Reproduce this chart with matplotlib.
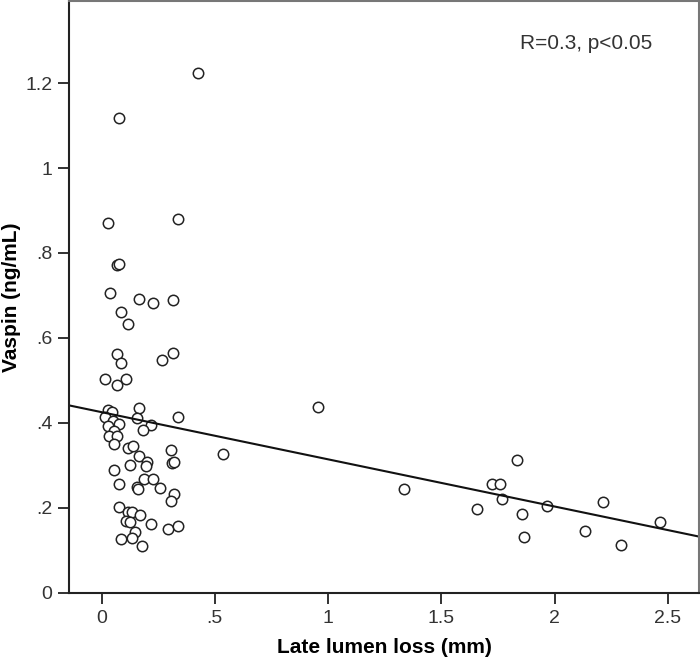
import matplotlib.pyplot as plt
import numpy as np
from matplotlib import font_manager

# late lumen loss (mm) and vaspin (ng/mL)
lll = [0.427, 0.076, 0.027, 0.338, 0.070, 0.077, 0.037, 0.167, 0.227, 0.317,
       0.086, 0.118, 0.068, 0.087, 0.317, 0.268, 0.017, 0.108, 0.068, 0.027,
       0.048, 0.167, 0.336, 0.015, 0.155, 0.049, 0.079, 0.027, 0.217, 0.185,
       0.057, 0.034, 0.070, 0.057, 0.116, 0.138, 0.307, 0.538, 0.167, 0.200,
       0.196, 0.310, 0.319, 0.127, 0.057, 0.077, 0.188, 0.226, 0.155, 0.160,
       0.257, 0.319, 0.305, 0.077, 0.118, 0.136, 0.170, 0.108, 0.126, 0.217,
       0.295, 0.336, 0.149, 0.086, 0.136, 0.177, 0.957,
       1.337, 1.656, 1.725, 1.758, 1.836, 1.767, 1.857, 1.867, 1.966, 2.136,
       2.216, 2.295, 2.466]
vaspin = [1.224, 1.117, 0.870, 0.881, 0.772, 0.775, 0.707, 0.692, 0.683, 0.689,
          0.660, 0.632, 0.563, 0.540, 0.565, 0.548, 0.504, 0.504, 0.489, 0.431,
          0.427, 0.435, 0.414, 0.413, 0.411, 0.405, 0.398, 0.393, 0.396, 0.383,
          0.382, 0.370, 0.369, 0.351, 0.340, 0.346, 0.336, 0.327, 0.322, 0.309,
          0.299, 0.307, 0.309, 0.302, 0.290, 0.256, 0.269, 0.268, 0.249, 0.245,
          0.248, 0.233, 0.217, 0.202, 0.191, 0.190, 0.184, 0.170, 0.168, 0.162,
          0.151, 0.158, 0.143, 0.127, 0.129, 0.110, 0.438,
          0.245, 0.198, 0.256, 0.256, 0.312, 0.220, 0.185, 0.132, 0.204, 0.146,
          0.215, 0.113, 0.167]

# fit line as drawn
fit_slope = -0.111
fit_intercept = 0.4255

xticks = [0, 0.5, 1, 1.5, 2, 2.5]
xticklabels = ['0', '.5', '1', '1.5', '2', '2.5']
yticks = [0, 0.2, 0.4, 0.6, 0.8, 1.0, 1.2]
yticklabels = ['0', '.2', '.4', '.6', '.8', '1', '1.2']

plt.rcParams['font.family'] = ['Liberation Sans', 'DejaVu Sans']

# narrow bold face for axis titles if it is there
names = {f.name for f in font_manager.fontManager.ttflist}
label_family = 'Liberation Sans Narrow' if 'Liberation Sans Narrow' in names else 'Liberation Sans'

fig = plt.figure(figsize=(7, 6.59), dpi=100)
ax = fig.add_axes([0.0986, 0.1002, 0.9, 0.8983])

xmin, xmax = -0.1435, 2.638
ax.set_xlim(xmin, xmax)
ax.set_ylim(0, 1.393)

ax.plot(lll, vaspin, 'o', mfc='white', mec='#222222', mew=1.1, ms=7.5, ls='none')
xs = np.array([xmin, xmax])
ax.plot(xs, fit_intercept + fit_slope * xs, color='#111111', lw=1.5)

ax.set_xticks(xticks)
ax.set_xticklabels(xticklabels)
ax.set_yticks(yticks)
ax.set_yticklabels(yticklabels)
ax.tick_params(direction='out', length=8, width=1.3, labelsize=14,
               labelcolor='#333333', color='#222222', pad=4)

for side in ['left', 'bottom']:
    ax.spines[side].set_color('#222222')
    ax.spines[side].set_linewidth(1.5)
for side in ['top', 'right']:
    ax.spines[side].set_color('#777777')
    ax.spines[side].set_linewidth(1.5)

ax.set_xlabel('Late lumen loss (mm)', fontsize=15, fontweight='bold',
              family=label_family, labelpad=8)
ax.set_ylabel('Vaspin (ng/mL)', fontsize=15, fontweight='bold',
              family=label_family, labelpad=3)

ax.text(2.43, 1.294, 'R=0.3, p<0.05', fontsize=15, color='#333333',
        ha='right', va='center')

plt.savefig('out.png', dpi=100)
